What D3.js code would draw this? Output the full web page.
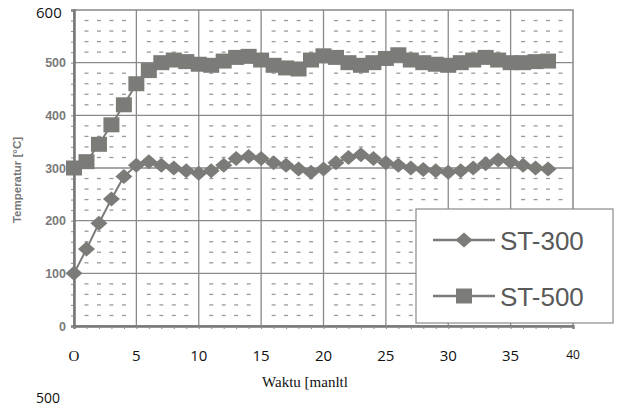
<!DOCTYPE html>
<html>
<head>
<meta charset="utf-8">
<script src="https://cdn.jsdelivr.net/npm/d3@7"></script>
<style>
  body { margin: 0; background: #fff; }
  svg { display: block; }
</style>
</head>
<body>
<svg id="chart"></svg>
<script>
// data (minutes vs temperature)
const minutes = d3.range(0, 39);
const st300 = [100, 146, 195, 241, 284, 305, 312, 305, 300, 295, 290, 295, 305, 318, 322, 318, 310, 305, 298, 292,
  298, 310, 320, 325, 318, 310, 305, 300, 297, 295, 292, 295, 300, 308, 315, 312, 305, 300, 298];
const st500 = [300, 312, 345, 382, 420, 460, 485, 500, 505, 502, 497, 495, 503, 510, 512, 505, 495, 490, 488, 505,
  513, 510, 500, 495, 500, 508, 515, 505, 500, 497, 495, 500, 505, 510, 505, 500, 500, 502, 503];
const xTicks = [0, 5, 10, 15, 20, 25, 30, 35, 40];
const xTickText = ["O", "5", "10", "15", "20", "25", "30", "35", "40"];
const yTicks = [0, 100, 200, 300, 400, 500];

const width = 619, height = 409;
const svg = d3.select("#chart").attr("width", width).attr("height", height);

const x = d3.scaleLinear().domain([0, 40]).range([74, 573]);
const y = d3.scaleLinear().domain([0, 600]).range([326, 10]);

const gridColor = "#8a8a8a";
const markColor = "#7b7b78";

// minor dashes (every 1 min, every 20 degrees)
const minorY = d3.range(20, 600, 20).filter(v => v % 100 !== 0);
const minorX = d3.range(1, 40).filter(v => v % 5 !== 0);
const dashes = svg.append("g");
minorY.forEach(vy => {
  dashes.selectAll(null)
    .data(minorX)
    .enter()
    .append("line")
    .attr("x1", d => x(d) - 2)
    .attr("x2", d => x(d) + 2)
    .attr("y1", y(vy))
    .attr("y2", y(vy))
    .attr("stroke", "#999")
    .attr("stroke-width", 1.3);
});

// major grid
svg.append("g").selectAll("line")
  .data(xTicks.slice(1, -1))
  .enter()
  .append("line")
  .attr("x1", d => x(d)).attr("x2", d => x(d))
  .attr("y1", y(600)).attr("y2", y(0))
  .attr("stroke", gridColor).attr("stroke-width", 1.3);

svg.append("g").selectAll("line")
  .data(yTicks.slice(1))
  .enter()
  .append("line")
  .attr("x1", x(0)).attr("x2", x(40))
  .attr("y1", d => y(d)).attr("y2", d => y(d))
  .attr("stroke", gridColor).attr("stroke-width", 1.3);

// frame
svg.append("rect")
  .attr("x", x(0)).attr("y", y(600))
  .attr("width", x(40) - x(0)).attr("height", y(0) - y(600))
  .attr("fill", "none")
  .attr("stroke", "#888").attr("stroke-width", 1.5);

// axes
const yAxis = svg.append("g")
  .attr("transform", `translate(${x(0)},0)`)
  .call(d3.axisLeft(y).tickValues(d3.range(0, 620, 20)).tickSize(3).tickFormat(""));
yAxis.select(".domain").attr("stroke", "#777").attr("stroke-width", 2.5);
yAxis.selectAll(".tick line").attr("stroke", "#888");

const xAxis = svg.append("g")
  .attr("transform", `translate(0,${y(0)})`)
  .call(d3.axisBottom(x).tickValues(d3.range(0, 41, 1)).tickSize(3).tickFormat(""));
xAxis.select(".domain").attr("stroke", "#777").attr("stroke-width", 2.5);
xAxis.selectAll(".tick line").attr("stroke", "#888");

// y tick labels
svg.append("g").selectAll("text")
  .data(yTicks)
  .enter()
  .append("text")
  .attr("x", 66)
  .attr("y", d => y(d) + 4.5)
  .attr("text-anchor", "end")
  .attr("font-family", "Liberation Sans, Arial, sans-serif")
  .attr("font-weight", "bold")
  .attr("font-size", 12.5)
  .attr("fill", "#7a7a7a")
  .text(d => d);

svg.append("text")
  .attr("x", 36).attr("y", 18)
  .attr("font-family", "Open Sans, sans-serif")
  .attr("font-size", 15)
  .attr("fill", "#111")
  .text("600");

svg.append("text")
  .attr("transform", `translate(21,${y(300) + 12}) rotate(-90)`)
  .attr("text-anchor", "middle")
  .attr("font-family", "Liberation Sans, Arial, sans-serif")
  .attr("font-weight", "bold")
  .attr("font-size", 11.5)
  .attr("fill", "#777")
  .text("Temperatur [°C]");

// x tick labels
svg.append("g").selectAll("text")
  .data(xTicks)
  .enter()
  .append("text")
  .attr("x", d => x(d))
  .attr("y", d => d === 40 ? 359 : 361)
  .attr("text-anchor", "middle")
  .attr("font-family", d => d === 0 ? "Liberation Serif, serif" : "Open Sans, sans-serif")
  .attr("font-size", d => d === 40 ? 12 : 15)
  .attr("fill", "#111")
  .text((d, i) => xTickText[i]);

svg.append("text")
  .attr("x", 305).attr("y", 387)
  .attr("text-anchor", "middle")
  .attr("font-family", "Liberation Serif, serif")
  .attr("font-size", 15)
  .attr("fill", "#111")
  .text("Waktu [manltl");

svg.append("text")
  .attr("x", 36).attr("y", 403)
  .attr("font-family", "Open Sans, sans-serif")
  .attr("font-size", 14)
  .attr("fill", "#111")
  .text("500");

// series markers: wide diamond and square, as in the scan
const diamond = "M-8.5,0L0,-7.5L8.5,0L0,7.5Z";
const square = "M-8,-7.5H8V7.5H-8Z";
const line = d3.line().x((d, i) => x(minutes[i])).y(d => y(d));

function drawSeries(values, sym) {
  const g = svg.append("g");
  g.append("path")
    .attr("d", line(values))
    .attr("fill", "none")
    .attr("stroke", markColor)
    .attr("stroke-width", 2);
  g.selectAll("path.m")
    .data(values)
    .enter()
    .append("path")
    .attr("class", "m")
    .attr("transform", (d, i) => `translate(${x(minutes[i])},${y(d)})`)
    .attr("d", sym)
    .attr("fill", markColor);
}
drawSeries(st500, square);
drawSeries(st300, diamond);

// legend
const legend = svg.append("g");
legend.append("rect")
  .attr("x", 416).attr("y", 209)
  .attr("width", 197).attr("height", 114)
  .attr("fill", "#fff")
  .attr("stroke", "#8a8a8a").attr("stroke-width", 1.2);

const legendItems = [
  { name: "ST-300", sym: diamond, cy: 240 },
  { name: "ST-500", sym: square, cy: 296 }
];
legendItems.forEach(item => {
  legend.append("line")
    .attr("x1", 433).attr("x2", 495)
    .attr("y1", item.cy).attr("y2", item.cy)
    .attr("stroke", markColor).attr("stroke-width", 2.5);
  legend.append("path")
    .attr("transform", `translate(464,${item.cy})`)
    .attr("d", item.sym)
    .attr("fill", markColor);
  legend.append("text")
    .attr("x", 500).attr("y", item.cy + 9.5)
    .attr("font-family", "Liberation Sans, Arial, sans-serif")
    .attr("font-size", 26)
    .attr("fill", "#595959")
    .text(item.name);
});
</script>
</body>
</html>
